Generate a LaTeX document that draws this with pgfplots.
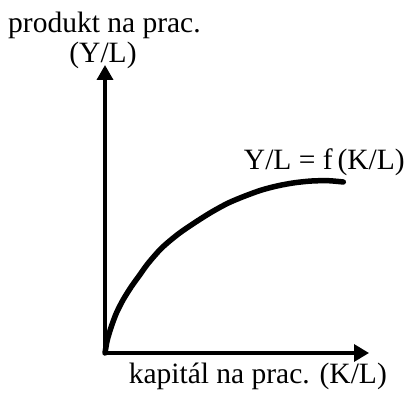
\documentclass[border=0pt]{standalone}
\usepackage{fontspec}
\setmainfont{Liberation Serif}
\usepackage{pgfplots}
\pgfplotsset{compat=1.18}
\usetikzlibrary{arrows.meta}

\newcommand\lbl{\fontsize{29.5}{34}\selectfont}

\begin{document}
\begin{tikzpicture}
\begin{axis}[
    width=408pt, height=399pt,
    scale only axis,
    hide axis,
    clip=false,
    xmin=-105, xmax=303,
    ymin=-46, ymax=353,
]

% axes with arrow heads
\draw[line width=3.4pt, -{Triangle[length=15pt,width=16pt]}]
    (axis cs:0,0) -- (axis cs:0,288);
\draw[line width=3.4pt, -{Triangle[length=15pt,width=17pt]}]
    (axis cs:0,0) -- (axis cs:264,0);

% production function Y/L = f(K/L)
\addplot[black, line width=5.5pt, smooth, tension=0.5, line cap=round] coordinates {
    (0,0) (2.3,13) (6.3,26.3) (11.3,39.7) (18,53) (26.3,66.3)
    (34.7,78) (43,89.5) (56.7,105) (73.3,119) (90,130.5)
    (106.7,141) (123.3,150) (140,157) (156.7,163) (173.3,167.3)
    (190,170.3) (206.7,172) (223.3,172.3) (238.3,171)
};

\node[inner sep=0pt, anchor=base west, font=\lbl] at (axis cs:-97,320) {produkt na prac.};
\node[inner sep=0pt, anchor=base, font=\lbl] at (axis cs:-2,290) {(Y/L)};
\node[inner sep=0pt, anchor=base east, font=\lbl] at (axis cs:300,183) {Y/L = f\,(K/L)};
\node[inner sep=0pt, anchor=base east, font=\lbl] at (axis cs:282,-31) {kapitál na prac. (K/L)};

\end{axis}
\pgfresetboundingbox
\path[use as bounding box] (current axis.south west) rectangle (current axis.north east);
\end{tikzpicture}
\end{document}
